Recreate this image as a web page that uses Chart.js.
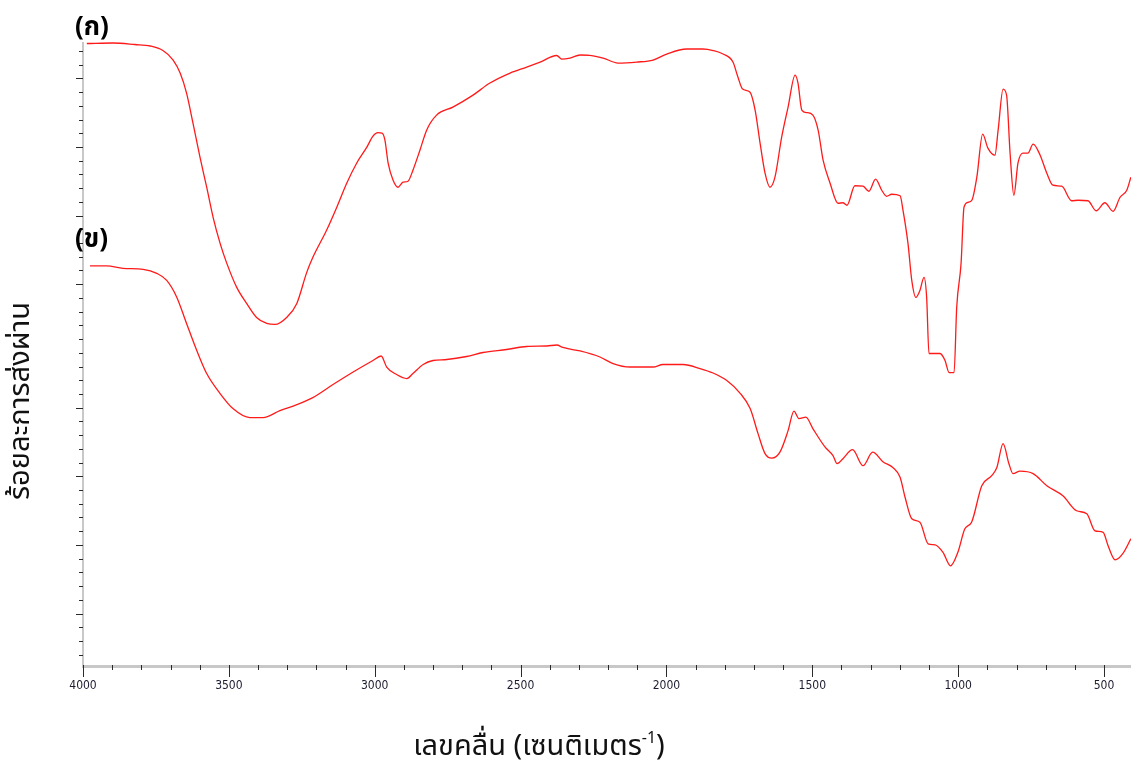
<!DOCTYPE html>
<html lang="th">
<head>
<meta charset="utf-8">
<title>FTIR</title>
<script src="https://cdn.jsdelivr.net/npm/chart.js@4"></script>
<style>
  html, body { margin: 0; padding: 0; background: #ffffff; }
  #wrap { position: relative; width: 1131px; height: 761px; }
</style>
</head>
<body>
<div id="wrap"><canvas id="ftir"></canvas></div>
<script>
// Spectrum (ก): wavenumber (cm-1) and transmittance (arbitrary offset units)
const waveA = [3987, 3897, 3822, 3770, 3726, 3691, 3667, 3645, 3623, 3599, 3576, 3554, 3530, 3507, 3473, 3439, 3405, 3370, 3342, 3302,
  3267, 3233, 3212, 3165, 3130, 3096, 3062, 3027, 3006, 2989, 2975, 2965, 2954, 2937, 2920, 2903, 2886, 2869, 2845, 2822,
  2788, 2732, 2663, 2605, 2536, 2479, 2433, 2376, 2359, 2331, 2296, 2256, 2217, 2166, 2102, 2046, 1999, 1931, 1875, 1840,
  1806, 1772, 1755, 1739, 1714, 1696, 1679, 1662, 1645, 1628, 1605, 1583, 1559, 1549, 1536, 1519, 1498, 1480, 1463, 1439,
  1412, 1395, 1381, 1354, 1326, 1306, 1283, 1262, 1245, 1228, 1199, 1189, 1172, 1159, 1145, 1131, 1117, 1108, 1100, 1062,
  1045, 1031, 1014, 1005, 990, 980, 966, 953, 936, 916, 898, 874, 863, 846, 834, 822, 809, 795, 778, 761,
  743, 719, 696, 675, 645, 611, 589, 555, 527, 497, 469, 445, 422, 408];
const transA = [124.3, 124.4, 124.1, 123.8, 122.9, 121.0, 118.4, 114.4, 108.4, 101.6, 95.6, 89.6, 84.4, 80.4, 75.6, 72.4, 69.6, 68.4, 68.2, 69.6,
  72.4, 78.6, 81.6, 87.0, 91.6, 96.4, 100.4, 103.6, 105.8, 106.5, 106.4, 105.0, 100.4, 97.0, 95.6, 96.6, 96.8, 99.0, 103.0, 107.0,
  110.0, 111.6, 114.0, 116.4, 118.4, 119.6, 120.6, 121.9, 121.2, 121.4, 122.0, 121.9, 121.4, 120.4, 120.6, 121.0, 122.2, 123.2, 123.2, 122.9,
  122.2, 120.6, 117.6, 115.2, 114.6, 111.0, 104.4, 98.4, 95.6, 97.6, 105.6, 111.6, 118.0, 116.4, 111.0, 110.5, 110.0, 107.0, 101.0, 96.4,
  92.4, 92.5, 92.0, 95.9, 95.8, 94.8, 97.2, 95.0, 93.8, 94.2, 93.9, 91.0, 84.4, 77.0, 73.6, 75.0, 77.6, 73.6, 62.4, 62.4,
  61.0, 58.6, 58.6, 71.6, 80.4, 91.6, 92.6, 93.0, 97.6, 106.2, 103.4, 102.0, 107.0, 115.2, 114.0, 102.4, 94.0, 100.4, 102.4, 102.4,
  104.2, 102.0, 98.4, 96.0, 95.8, 92.9, 93.0, 92.9, 90.9, 92.5, 90.8, 93.6, 95.0, 97.6];

// Spectrum (ข)
const waveB = [3976, 3919, 3863, 3794, 3747, 3713, 3679, 3645, 3610, 3576, 3530, 3486, 3428, 3383, 3325, 3267, 3212, 3143, 3074, 3006,
  2978, 2959, 2925, 2890, 2869, 2834, 2800, 2753, 2685, 2629, 2548, 2479, 2410, 2376, 2355, 2296, 2228, 2183, 2125, 2046,
  2012, 1943, 1885, 1840, 1793, 1748, 1713, 1686, 1662, 1639, 1611, 1583, 1563, 1546, 1522, 1498, 1456, 1429, 1415, 1395,
  1362, 1326, 1293, 1258, 1223, 1199, 1182, 1159, 1131, 1103, 1079, 1052, 1026, 1001, 977, 954, 919, 885, 867, 846,
  826, 812, 788, 743, 696, 641, 594, 559, 531, 503, 486, 462, 435, 408];
const transB = [79.9, 79.9, 79.4, 79.2, 78.4, 77.0, 73.7, 68.4, 63.0, 58.4, 54.4, 51.4, 49.6, 49.6, 51.0, 52.2, 53.6, 56.2, 58.7, 61.0,
  61.9, 59.7, 58.2, 57.4, 58.4, 60.2, 61.0, 61.2, 61.8, 62.6, 63.2, 63.8, 63.9, 64.1, 63.6, 62.9, 61.7, 60.4, 59.7, 59.7,
  60.2, 60.2, 59.4, 58.5, 57.0, 54.5, 51.4, 46.4, 42.4, 41.5, 42.7, 47.0, 50.9, 49.4, 49.7, 47.4, 43.7, 42.0, 40.4, 41.4,
  43.2, 40.0, 42.7, 40.8, 39.6, 37.7, 33.7, 29.4, 28.7, 24.4, 24.2, 22.7, 20.0, 22.7, 27.4, 28.7, 36.0, 38.0, 39.7, 44.4,
  40.4, 38.4, 38.9, 38.4, 36.0, 34.0, 31.0, 30.4, 27.0, 26.7, 24.0, 21.2, 22.5, 25.4];

// Labelled wavenumber ticks on the x axis
const xMajorTicks = [4000, 3500, 3000, 2500, 2000, 1500, 1000, 500];
const xMinorStep = 100;
const xRange = { max: 4000, min: 407.5 };

// Transmittance scale and its unlabelled tick marks
const yRange = { min: 0, max: 124.4 };
const yTickStart = 117.34;
const yTickStep = 2.74;
const yTickCount = { above: 2, below: 42 };
const yMajorIndex = [0, 5, 10, 15, 24, 29, 34, 39];

const panelLabels = ['(ก)', '(ข)'];
const xTitle = 'เลขคลื่น (เซนติเมตร';
const xTitleSup = '-1';
const yTitle = 'ร้อยละการส่งผ่าน';

const thaiFont = '"Noto Sans Thai", "Noto Sans Thai UI", "Noto Sans", "DejaVu Sans", sans-serif';
const narrowFont = '"Liberation Sans Narrow", "DejaVu Sans Condensed", "Arial Narrow", sans-serif';

const toPoints = (xs, ys) => xs.map((x, i) => ({ x, y: ys[i] }));

const yTickValues = [];
for (let n = -yTickCount.above; n <= yTickCount.below; n++) {
  yTickValues.push({ v: yTickStart - yTickStep * n, major: yMajorIndex.includes(n) });
}
const xTickValues = [];
for (let v = xRange.max; v >= 500; v -= xMinorStep) xTickValues.push(v);

// Tick marks drawn over the axis bands, the titles and the panel labels
const decorations = {
  id: 'decorations',
  afterDraw(chart) {
    const { ctx, scales: { x, y }, chartArea } = chart;
    ctx.save();
    ctx.strokeStyle = '#2a2a2a';
    ctx.lineWidth = 1;
    ctx.beginPath();
    xTickValues.forEach(v => {
      const px = Math.round(x.getPixelForValue(v)) + 0.5;
      const major = xMajorTicks.includes(v);
      ctx.moveTo(px, chartArea.bottom - 1);
      ctx.lineTo(px, chartArea.bottom + (major ? 11 : 4));
    });
    yTickValues.forEach(t => {
      const py = Math.round(y.getPixelForValue(t.v)) + 0.5;
      ctx.moveTo(chartArea.left - (t.major ? 7 : 4), py);
      ctx.lineTo(chartArea.left, py);
    });
    ctx.stroke();

    ctx.fillStyle = '#111';
    // x title with superscript
    const mainFont = '29px ' + thaiFont;
    const supFont = '16px ' + thaiFont;
    ctx.font = mainFont;
    const w1 = ctx.measureText(xTitle).width;
    const w3 = ctx.measureText(')').width;
    ctx.font = supFont;
    const w2 = ctx.measureText(xTitleSup).width;
    const total = w1 + w2 + w3;
    let cx = 539 - total / 2;
    const base = 755;
    ctx.textBaseline = 'alphabetic';
    ctx.textAlign = 'left';
    ctx.font = mainFont;
    ctx.fillText(xTitle, cx, base);
    cx += w1;
    ctx.font = supFont;
    ctx.fillText(xTitleSup, cx, base - 12);
    cx += w2;
    ctx.font = mainFont;
    ctx.fillText(')', cx, base);

    // y title
    ctx.save();
    ctx.translate(23, 401);
    ctx.rotate(-Math.PI / 2);
    ctx.textAlign = 'center';
    ctx.textBaseline = 'middle';
    ctx.font = mainFont;
    ctx.fillText(yTitle, 0, 0);
    ctx.restore();

    // panel labels
    ctx.font = 'bold 26px ' + thaiFont;
    ctx.textAlign = 'left';
    ctx.textBaseline = 'middle';
    ctx.fillStyle = '#000';
    ctx.fillText(panelLabels[0], 75, 30);
    ctx.fillText(panelLabels[1], 75, 242);
    ctx.restore();
  }
};

const lineStyle = {
  borderColor: '#ff1a1a',
  borderWidth: 1.3,
  pointRadius: 0,
  fill: false,
  cubicInterpolationMode: 'monotone',
  clip: 4
};

new Chart(document.getElementById('ftir'), {
  type: 'line',
  data: {
    datasets: [
      { label: panelLabels[0], data: toPoints(waveA, transA), ...lineStyle },
      { label: panelLabels[1], data: toPoints(waveB, transB), ...lineStyle }
    ]
  },
  options: {
    responsive: true,
    maintainAspectRatio: false,
    animation: false,
    layout: { padding: { top: 43, right: 0, left: 0, bottom: 0 } },
    plugins: { legend: { display: false }, tooltip: { enabled: false } },
    scales: {
      x: {
        type: 'linear',
        reverse: true,
        min: xRange.min,
        max: xRange.max,
        afterBuildTicks(scale) {
          scale.ticks = xTickValues.map(v => ({ value: v }));
        },
        afterFit(scale) { scale.height = 95; },
        border: { display: true, color: '#c8c8c8', width: 3 },
        grid: { drawOnChartArea: false, drawTicks: true, tickLength: 4, tickColor: 'rgba(0,0,0,0)', tickWidth: 1 },
        ticks: {
          autoSkip: false,
          maxRotation: 0,
          padding: 9,
          color: '#1c1c30',
          font: { family: narrowFont, size: 12 },
          callback: v => (xMajorTicks.includes(v) ? String(v) : '')
        }
      },
      y: {
        type: 'linear',
        min: yRange.min,
        max: yRange.max,
        afterBuildTicks(scale) {
          scale.ticks = yTickValues.map(t => ({ value: t.v }));
        },
        afterFit(scale) { scale.width = 83; },
        border: { display: true, color: '#c8c8c8', width: 2 },
        grid: { drawOnChartArea: false, drawTicks: false },
        ticks: { padding: 0, callback: () => '' }
      }
    }
  },
  plugins: [decorations]
});
</script>
</body>
</html>
